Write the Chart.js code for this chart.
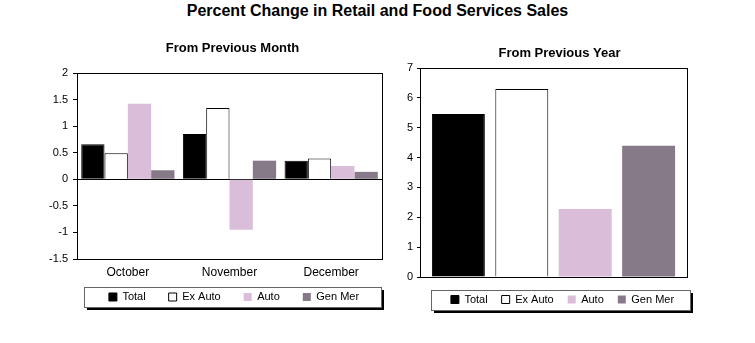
<!DOCTYPE html>
<html>
<head>
<meta charset="utf-8">
<script src="https://cdn.jsdelivr.net/npm/chart.js@4/dist/chart.umd.min.js"></script>
<style>
  body { margin: 0; background: #fff; width: 755px; height: 343px; position: relative; overflow: hidden; }
  #mainTitle { position: absolute; left: 0; top: 2px; width: 755px; text-align: center;
    font: bold 16px "Liberation Sans", Arial, sans-serif; color: #000; }
  .panel { position: absolute; top: 30px; }
</style>
</head>
<body>
<div id="mainTitle">Percent Change in Retail and Food Services Sales</div>
<div class="panel" style="left:0; width:395px; height:290px;"><canvas id="monthChart" width="395" height="290"></canvas></div>
<div class="panel" style="left:395px; width:340px; height:290px;"><canvas id="yearChart" width="340" height="290"></canvas></div>
<script>
const months = ['October', 'November', 'December'];
const seriesNames = ['Total', 'Ex Auto', 'Auto', 'Gen Mer'];

// month-over-month change, %
const monthTotal = [0.66, 0.85, 0.35];
const monthExAuto = [0.49, 1.34, 0.39];
const monthAuto = [1.42, -0.95, 0.25];
const monthGenMer = [0.17, 0.35, 0.14];

// year-over-year change, % (Total, Ex Auto, Auto, Gen Mer)
const yearValues = [5.46, 6.30, 2.28, 4.40];

const FONT = '"Liberation Sans", Arial, sans-serif';

const seriesStyle = [
    { backgroundColor: '#000', borderColor: '#000', borderWidth: 1 },
    { backgroundColor: '#fff', borderColor: '#000', borderWidth: 1 },
    { backgroundColor: '#d9bdd9', borderWidth: 0 },
    { backgroundColor: '#867a88', borderWidth: 0 }
];

// plot border + boxed legend with drop shadow; also nudges title/legend sideways
const panelFrame = {
    id: 'panelFrame',
    afterLayout(chart, args, opts) {
        const t = chart.titleBlock, l = chart.legend;
        if (t) { t.left += opts.titleShift; t.right += opts.titleShift; }
        if (l) { l.left += opts.legendShift; l.right += opts.legendShift; }
    },
    afterDraw(chart, args, opts) {
        const { ctx, chartArea: a, legend } = chart;
        ctx.save();
        ctx.strokeStyle = '#000';
        ctx.lineWidth = 1;
        ctx.strokeRect(Math.round(a.left) + 0.5, Math.round(a.top) + 0.5,
            Math.round(a.right - a.left), Math.round(a.bottom - a.top));

        const cy = legend.top + legend.options.labels.padding + 5.5;
        const x = Math.round(a.left + opts.inset) + 0.5;
        const w = Math.round(a.right + opts.outset - a.left - opts.inset);
        const y = Math.round(cy - 10) + 0.5;
        const h = 20;
        ctx.strokeStyle = '#666';
        ctx.strokeRect(x, y, w, h);
        ctx.fillStyle = '#000';
        ctx.fillRect(x + 2.5, y + h + 0.5, w, 2);
        ctx.fillRect(x + w + 0.5, y + 2.5, 2, h);
        ctx.restore();
    }
};

function legendOpts(pad, gap) {
    return {
        position: 'bottom',
        fullSize: false,
        labels: {
            color: '#000',
            boxWidth: 8,
            boxHeight: 8,
            padding: pad,
            font: { family: FONT, size: 11 },
            // extra trailing room between items without growing the legend height
            generateLabels: chart => Chart.defaults.plugins.legend.labels.generateLabels(chart)
                .map(item => ({ ...item, text: item.text + gap }))
        }
    };
}

function titleOpts(text, top, bottom) {
    return {
        display: true,
        text: text,
        fullSize: false,
        color: '#000',
        font: { family: FONT, size: 13, weight: 'bold' },
        padding: { top: top, bottom: bottom }
    };
}

new Chart(document.getElementById('monthChart'), {
    type: 'bar',
    data: {
        labels: months,
        datasets: [monthTotal, monthExAuto, monthAuto, monthGenMer].map((d, i) => ({
            label: seriesNames[i],
            data: d,
            ...seriesStyle[i],
            categoryPercentage: 0.917,
            barPercentage: 1.0
        }))
    },
    options: {
        responsive: false,
        animation: false,
        layout: { padding: { left: 0, right: 13, top: 0, bottom: 7.5 } },
        plugins: {
            title: titleOpts('From Previous Month', 10.2, 17.2),
            legend: legendOpts(12, '\u2003'),
            tooltip: { enabled: false },
            panelFrame: { inset: 7, outset: -1, titleShift: 3, legendShift: 10 }
        },
        scales: {
            x: {
                grid: { display: false, drawTicks: false },
                border: { color: '#000' },
                ticks: { color: '#000', padding: 6, font: { family: FONT, size: 12 } },
                afterFit(s) { s.height = 20.5; }
            },
            y: {
                min: -1.5,
                max: 2,
                ticks: { stepSize: 0.5, color: '#000', padding: 5, font: { family: FONT, size: 11 },
                    callback: v => String(v) },
                grid: {
                    drawTicks: true,
                    tickLength: 4,
                    tickColor: '#000',
                    color: c => (c.tick && c.tick.value === 0) ? '#000' : 'rgba(0,0,0,0)'
                },
                border: { color: '#000' },
                afterFit(s) { s.width = 77; }
            }
        }
    },
    plugins: [panelFrame]
});

new Chart(document.getElementById('yearChart'), {
    type: 'bar',
    data: {
        labels: [''],
        datasets: yearValues.map((v, i) => ({
            label: seriesNames[i],
            data: [v],
            ...seriesStyle[i],
            categoryPercentage: 0.95,
            barPercentage: 0.835
        }))
    },
    options: {
        responsive: false,
        animation: false,
        layout: { padding: { left: 0, right: 48, top: 0, bottom: 5 } },
        plugins: {
            title: titleOpts('From Previous Year', 15.2, 7.2),
            legend: legendOpts(14, ''),
            tooltip: { enabled: false },
            panelFrame: { inset: 11, outset: 3, titleShift: 6, legendShift: 9 }
        },
        scales: {
            x: {
                grid: { display: false, drawTicks: false },
                border: { color: '#000' },
                ticks: { display: false },
                afterFit(s) { s.height = 3; }
            },
            y: {
                min: 0,
                max: 7,
                ticks: { stepSize: 1, color: '#000', padding: 4, font: { family: FONT, size: 11 } },
                grid: { drawOnChartArea: false, drawTicks: true, tickLength: 3, tickColor: '#000' },
                border: { color: '#000' },
                afterFit(s) { s.width = 25; }
            }
        }
    },
    plugins: [panelFrame]
});
</script>
</body>
</html>
